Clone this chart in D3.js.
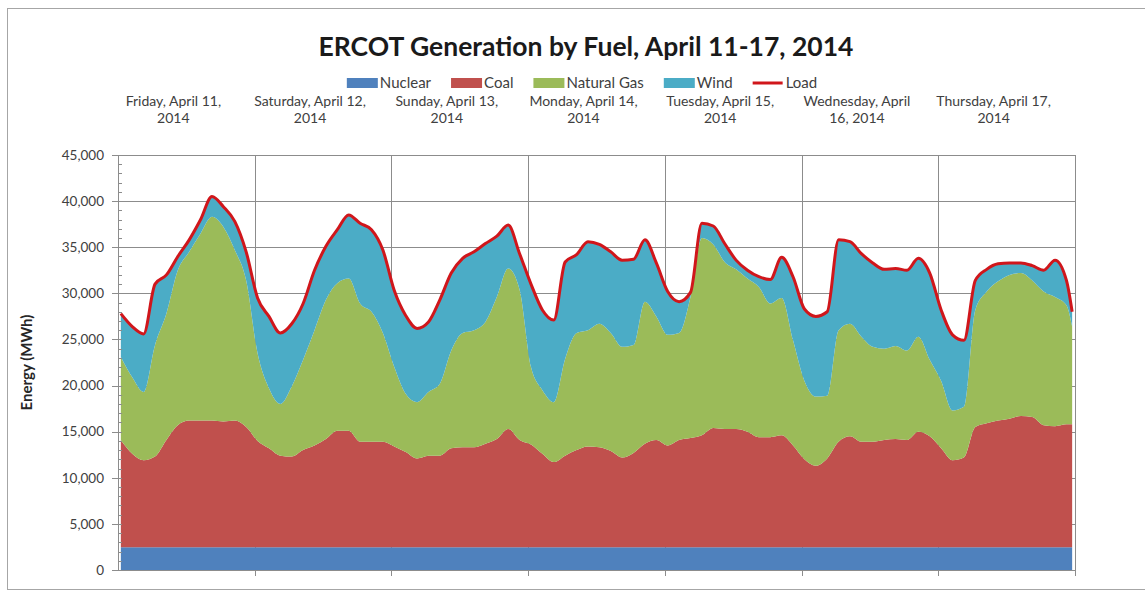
<!DOCTYPE html>
<html>
<head>
<meta charset="utf-8">
<script src="https://d3js.org/d3.v7.min.js"></script>
<style>
  body { margin: 0; background: #fff; }
  text { font-family: Lato, "Open Sans", sans-serif; }
</style>
</head>
<body>
<div id="chart"></div>
<script>
// hour of the week (0 = Friday 00:00), sampled every 2 hours
var hours = [0,2,4,6,8,10,12,14,16,18,20,22,
  24,26,28,30,32,34,36,38,40,42,44,46,
  48,50,52,54,56,58,60,62,64,66,68,70,
  72,74,76,78,80,82,84,86,88,90,92,94,
  96,98,100,102,104,106,108,110,112,114,116,118,
  120,122,124,126,128,130,132,134,136,138,140,142,
  144,146,148,150,152,154,156,158,160,162,164,166,
  167];

// MWh per hour
var nuclear = [2480,2480,2480,2480,2480,2480,2480,2480,2480,2480,2480,2480,
  2480,2480,2480,2480,2480,2480,2480,2480,2480,2480,2480,2480,
  2480,2480,2480,2480,2480,2480,2480,2480,2480,2480,2480,2480,
  2480,2480,2480,2480,2480,2480,2480,2480,2480,2480,2480,2480,
  2480,2480,2480,2480,2480,2480,2480,2480,2480,2480,2480,2480,
  2480,2480,2480,2480,2480,2480,2480,2480,2480,2480,2480,2480,
  2480,2480,2480,2480,2480,2480,2480,2480,2480,2480,2480,2480,
  2480];

var coal = [11620,10120,9420,9820,11620,13220,13720,13720,13720,13620,13720,13020,
  11520,10720,9920,9820,10520,11020,11720,12620,12620,11420,11420,11420,
  10920,10320,9620,9920,9920,10720,10820,10820,11220,11720,12820,11620,
  11120,10120,9220,9920,10520,10920,10820,10420,9720,10220,11220,11620,
  11020,11620,11820,12120,12920,12820,12820,12520,11920,11920,12120,11020,
  9520,8820,9620,11420,12020,11420,11420,11620,11720,11620,12520,12020,
  10720,9420,9720,13020,13420,13720,13920,14220,14120,13220,13120,13320,
  13320];

var naturalGas = [9000,8300,7400,12100,13700,16800,18300,20300,22100,21100,18500,15900,
  9500,6500,5600,7600,9800,12500,15100,16000,16500,15000,14100,11800,
  8600,6300,6100,6900,7800,10600,12400,12700,13200,15400,17400,16300,
  8400,6900,6500,10500,12700,12600,13400,12800,12000,11700,15400,13400,
  12000,11600,15300,21400,19900,18100,17300,16600,16300,14500,14900,11400,
  8500,7500,6800,12100,12200,11400,10300,9900,10100,9700,10300,8300,
  7300,5400,5500,12700,14300,15100,15600,15500,14800,14500,14000,12900,
  10600];

var wind = [4700,5500,6300,6600,4200,1500,1300,1500,2200,2200,3100,3100,
  6000,7800,7700,6800,6100,6500,5800,5800,6900,8700,8900,9000,
  8300,8500,8000,7600,9100,8400,8100,8500,8500,6600,4700,3900,
  9000,8700,8900,10500,8500,9600,8600,8800,9400,9300,6700,5800,
  4700,3400,500,1600,2000,2000,1000,900,1100,2600,4400,6900,
  7800,8700,9100,9800,8900,9000,9100,8600,8400,8700,8500,9400,
  7700,8200,7200,3200,2400,1900,1300,1100,1600,2300,4000,2700,
  1600];

var load = [27800,26400,25600,31000,32000,34000,35800,38000,40500,39400,37800,34500,
  29500,27500,25700,26700,28900,32500,35100,36900,38500,37600,36900,34700,
  30300,27600,26200,26900,29300,32200,33800,34500,35400,36200,37400,34300,
  31000,28200,27100,33400,34200,35600,35300,34500,33600,33700,35800,33300,
  30200,29100,30100,37600,37300,35400,33600,32500,31800,31500,33900,31800,
  28300,27500,28000,35800,35600,34300,33300,32600,32700,32500,33800,32200,
  28200,25500,24900,31400,32600,33200,33300,33300,33000,32500,33600,31400,
  28000];

var dayLabels = [
  ["Friday, April 11,", "2014"],
  ["Saturday, April 12,", "2014"],
  ["Sunday, April 13,", "2014"],
  ["Monday, April 14,", "2014"],
  ["Tuesday, April 15,", "2014"],
  ["Wednesday, April", "16, 2014"],
  ["Thursday, April 17,", "2014"]
];

var fuels = ["Nuclear", "Coal", "Natural Gas", "Wind"];
var fuelColors = ["#4f81bd", "#c0504d", "#9bbb59", "#4bacc6"];
var loadColor = "#d0161b";
var yTicks = [0, 5000, 10000, 15000, 20000, 25000, 30000, 35000, 40000, 45000];

// set the dimensions of the page and the plot box
var W = 1145, H = 591;
var plot = {left: 118, right: 1075, top: 155, bottom: 570};

var svg = d3.select("#chart")
  .append("svg")
    .attr("width", W)
    .attr("height", H);

// outer chart border
svg.append("rect")
  .attr("x", 7.5).attr("y", 8.5)
  .attr("width", 1150).attr("height", 581)
  .style("fill", "none").style("stroke", "#a6a6a6");

// rows for the stack
var rows = hours.map(function(h, i) {
  return {hour: h, "Nuclear": nuclear[i], "Coal": coal[i], "Natural Gas": naturalGas[i], "Wind": wind[i], load: load[i]};
});

var x = d3.scaleLinear()
  .domain([-0.5, 167.5])
  .range([plot.left, plot.right]);

var y = d3.scaleLinear()
  .domain([0, 45000])
  .range([plot.bottom, plot.top]);

var days = d3.scaleBand()
  .domain(d3.range(dayLabels.length))
  .range([plot.left, plot.right]);

var color = d3.scaleOrdinal().domain(fuels).range(fuelColors);

// horizontal gridlines
svg.append("g")
  .selectAll("line")
  .data(yTicks.slice(1))
  .enter()
  .append("line")
    .attr("x1", plot.left).attr("x2", plot.right)
    .attr("y1", function(d) { return Math.round(y(d)) + 0.5; })
    .attr("y2", function(d) { return Math.round(y(d)) + 0.5; })
    .style("stroke", "#8c8c8c").style("stroke-width", 1);

// vertical day gridlines
svg.append("g")
  .selectAll("line")
  .data(d3.range(1, dayLabels.length + 1))
  .enter()
  .append("line")
    .attr("x1", function(d) { return Math.round(plot.left + d * days.bandwidth()) + 0.5; })
    .attr("x2", function(d) { return Math.round(plot.left + d * days.bandwidth()) + 0.5; })
    .attr("y1", plot.top).attr("y2", plot.bottom + 6)
    .style("stroke", "#8c8c8c").style("stroke-width", 1);

// stacked areas
var stack = d3.stack().keys(fuels);
var series = stack(rows);

var area = d3.area()
  .curve(d3.curveMonotoneX)
  .x(function(d) { return x(d.data.hour); })
  .y0(function(d) { return y(d[0]); })
  .y1(function(d) { return y(d[1]); });

svg.append("g")
  .selectAll("path")
  .data(series)
  .enter()
  .append("path")
    .attr("d", area)
    .style("fill", function(d) { return color(d.key); })
    .style("stroke", "none");

// load line on top
var line = d3.line()
  .curve(d3.curveMonotoneX)
  .x(function(d) { return x(d.hour); })
  .y(function(d) { return y(d.load); });

svg.append("path")
  .datum(rows)
  .attr("d", line)
  .style("fill", "none")
  .style("stroke", loadColor)
  .style("stroke-width", 3)
  .style("stroke-linejoin", "round");

// y axis with minor ticks
var yAxisG = svg.append("g");
yAxisG.append("line")
  .attr("x1", plot.left + 0.5).attr("x2", plot.left + 0.5)
  .attr("y1", plot.top).attr("y2", plot.bottom)
  .style("stroke", "#8c8c8c");
yAxisG.selectAll(".minor")
  .data(d3.range(0, 45001, 1000))
  .enter()
  .append("line")
    .attr("x1", plot.left).attr("x2", plot.left + 4)
    .attr("y1", function(d) { return Math.round(y(d)) + 0.5; })
    .attr("y2", function(d) { return Math.round(y(d)) + 0.5; })
    .style("stroke", "#8c8c8c");
yAxisG.selectAll(".major")
  .data(yTicks)
  .enter()
  .append("line")
    .attr("x1", plot.left - 6).attr("x2", plot.left)
    .attr("y1", function(d) { return Math.round(y(d)) + 0.5; })
    .attr("y2", function(d) { return Math.round(y(d)) + 0.5; })
    .style("stroke", "#8c8c8c");
yAxisG.selectAll("text")
  .data(yTicks)
  .enter()
  .append("text")
    .attr("x", plot.left - 14)
    .attr("y", function(d) { return y(d); })
    .attr("dy", "0.35em")
    .attr("text-anchor", "end")
    .style("font-size", "13.5px")
    .style("fill", "#404040")
    .text(function(d) { return d3.format(",")(d); });

// x axis line
svg.append("line")
  .attr("x1", plot.left).attr("x2", plot.right)
  .attr("y1", plot.bottom + 0.5).attr("y2", plot.bottom + 0.5)
  .style("stroke", "#8c8c8c");

// y axis title
svg.append("text")
  .attr("transform", "translate(32," + ((plot.top + plot.bottom) / 2) + ") rotate(-90)")
  .attr("text-anchor", "middle")
  .style("font-size", "15px")
  .style("font-weight", "bold")
  .style("fill", "#262626")
  .text("Energy (MWh)");

// day labels above the plot (sit a bit left of the day centre, like the original)
var labelX = function(d, i) { return days(i) + days.bandwidth() / 2 - 13; };
var dayG = svg.append("g")
  .selectAll("text")
  .data(dayLabels)
  .enter()
  .append("text")
    .attr("x", labelX)
    .attr("y", 106)
    .attr("text-anchor", "middle")
    .style("font-size", "14px")
    .style("fill", "#404040");
dayG.append("tspan")
  .attr("x", labelX)
  .text(function(d) { return d[0]; });
dayG.append("tspan")
  .attr("x", labelX)
  .attr("dy", 17)
  .text(function(d) { return d[1]; });

// title
svg.append("text")
  .attr("x", 586).attr("y", 56)
  .attr("text-anchor", "middle")
  .style("font-size", "26.5px")
  .style("font-weight", "bold")
  .style("fill", "#1a1a1a")
  .text("ERCOT Generation by Fuel, April 11-17, 2014");

// legend
var legendItems = fuels.concat(["Load"]);
var legendGap = 20;
var legend = svg.append("g");
var lx = 0;
legendItems.forEach(function(name, i) {
  var g = legend.append("g").attr("transform", "translate(" + lx + ",0)");
  if (name === "Load") {
    g.append("line")
      .attr("x1", 0).attr("x2", 30).attr("y1", 83).attr("y2", 83)
      .style("stroke", loadColor).style("stroke-width", 3);
  } else {
    g.append("rect")
      .attr("x", 0).attr("y", 78).attr("width", 31).attr("height", 10)
      .style("fill", color(name));
  }
  var t = g.append("text")
    .attr("x", 33).attr("y", 83).attr("dy", "0.35em")
    .style("font-size", "15px")
    .style("fill", "#404040")
    .text(name);
  lx += 33 + t.node().getComputedTextLength() + legendGap;
});
var legendWidth = lx - legendGap;
legend.attr("transform", "translate(" + (582 - legendWidth / 2) + ",0)");
</script>
</body>
</html>
